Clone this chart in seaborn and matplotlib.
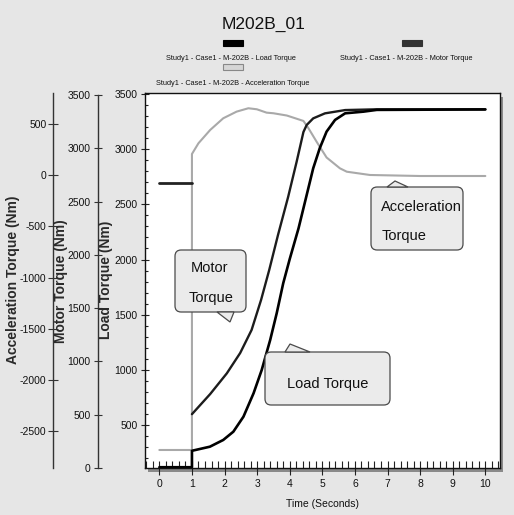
import matplotlib
matplotlib.use("Agg")
import matplotlib.pyplot as plt
import seaborn as sns
import pandas as pd
from matplotlib.patches import FancyBboxPatch, Polygon, Rectangle
from matplotlib.ticker import MultipleLocator

# ---------------- data ----------------
time_load = [0.0, 1.0, 1.0, 1.55, 1.96, 2.27, 2.58, 2.89, 3.14, 3.40, 3.60, 3.80,
             4.00, 4.27, 4.52, 4.72, 4.92, 5.13, 5.39, 5.70, 6.26, 6.67, 10.0]
load_torque = [118, 118, 267, 304, 365, 440, 576, 788, 999, 1271, 1513, 1785,
               2005, 2283, 2585, 2827, 3008, 3159, 3265, 3325, 3340, 3356, 3360]

time_motor_pre = [0.0, 1.0]
motor_torque_pre = [2674, 2674]
time_motor = [1.0, 1.56, 2.07, 2.48, 2.83, 3.12, 3.37, 3.64, 3.95, 4.21, 4.42,
              4.52, 4.72, 5.08, 5.70, 6.67, 10.0]
motor_torque = [505, 694, 888, 1079, 1295, 1576, 1857, 2186, 2542, 2871, 3152,
                3218, 3280, 3327, 3358, 3365, 3365]

time_acc = [0.0, 1.0, 1.0, 1.20, 1.56, 1.96, 2.37, 2.73, 2.99, 3.29, 3.50, 3.91,
            4.42, 4.57, 4.83, 5.13, 5.54, 5.75, 6.46, 8.0, 10.0]
acc_torque = [-2685, -2685, 207, 312, 442, 556, 621, 654, 644, 611, 605, 583,
              530, 461, 324, 173, 67, 34, 2, -8, -8]

x_ticks = list(range(0, 11))
load_ticks = [500, 1000, 1500, 2000, 2500, 3000, 3500]
motor_ticks = [0, 500, 1000, 1500, 2000, 2500, 3000, 3500]
acc_ticks = [-2500, -2000, -1500, -1000, -500, 0, 500]

legend_labels = ["Study1 - Case1 - M-202B - Load Torque",
                 "Study1 - Case1 - M-202B - Motor Torque",
                 "Study1 - Case1 - M-202B - Acceleration Torque"]

# ---------------- style ----------------
sns.set_theme(style="white")
FONT = ["Liberation Sans", "DejaVu Sans"]
plt.rcParams["font.family"] = FONT
plt.rcParams["axes.unicode_minus"] = False

W, H = 514, 515
BG = "#e6e6e6"
fig = plt.figure(figsize=(W / 100, H / 100), dpi=100, facecolor=BG)


def fx(px):
    return px / W


def fy(py):
    return 1 - py / H


L, R, T, B = 145, 500, 93, 468
ax = fig.add_axes([fx(L), fy(B), (R - L) / W, (B - T) / H])

# drop shadow of plot frame
fig.patches.append(Rectangle((fx(L + 3), fy(B + 4)), (R - L) / W, (B - T) / H,
                             transform=fig.transFigure, facecolor="#8a8a8a",
                             edgecolor="none", zorder=-1))

ax_m = ax.twinx()
ax_a = ax.twinx()

df_load = pd.DataFrame({"time": time_load, "torque": load_torque})
df_mpre = pd.DataFrame({"time": time_motor_pre, "torque": motor_torque_pre})
df_motor = pd.DataFrame({"time": time_motor, "torque": motor_torque})
df_acc = pd.DataFrame({"time": time_acc, "torque": acc_torque})

sns.lineplot(data=df_acc, x="time", y="torque", ax=ax_a, estimator=None,
             sort=False, color="#a9a9a9", lw=1.5)
sns.lineplot(data=df_mpre, x="time", y="torque", ax=ax_m, estimator=None,
             sort=False, color="#222222", lw=2.0)
sns.lineplot(data=df_motor, x="time", y="torque", ax=ax_m, estimator=None,
             sort=False, color="#1c1c1c", lw=1.7)
sns.lineplot(data=df_load, x="time", y="torque", ax=ax, estimator=None,
             sort=False, color="#000000", lw=1.9)

ax.set_zorder(3)
ax.patch.set_visible(False)
ax_m.set_zorder(2)
ax_m.patch.set_visible(False)
ax_a.set_zorder(1)
ax_a.patch.set_visible(True)
ax_a.patch.set_facecolor("white")

ax.set_xlim(-0.44, 10.45)
ax.set_ylim(111, 3509)
ax_m.set_ylim(0, 3518)
ax_a.set_ylim(-2861, 803)

for a in (ax, ax_m, ax_a):
    a.set_xlabel("")
    a.set_ylabel("")

TICK_FS = 7.5

# main axis (load torque)
for s in ("top", "left", "right", "bottom"):
    ax.spines[s].set_color("#111111")
    ax.spines[s].set_linewidth(1.0)
ax.set_xticks(x_ticks)
ax.xaxis.set_minor_locator(MultipleLocator(0.2))
ax.set_yticks(load_ticks)
ax.yaxis.set_minor_locator(MultipleLocator(100))
ax.tick_params(axis="x", which="major", direction="inout", length=10, width=0.8,
               color="#222222", pad=3.2, labelsize=TICK_FS, labelcolor="#111111",
               bottom=True)
ax.tick_params(axis="x", which="minor", direction="in", length=5, width=0.8,
               color="#222222", bottom=True)
ax.tick_params(axis="y", which="major", direction="inout", length=6, width=0.8,
               color="#222222", pad=2.5, labelsize=TICK_FS, labelcolor="#111111",
               left=True, right=False)
ax.tick_params(axis="y", which="minor", direction="in", length=2.5, width=0.8,
               color="#222222", left=True, right=False)

# twin axes (motor / acceleration) on the left, offset outward
for tw, off_px, ticks, ln, pd_ in ((ax_m, 47, motor_ticks, 6, 2.4),
                                   (ax_a, 92, acc_ticks, 6.5, 1.5)):
    for s in ("top", "right", "bottom"):
        tw.spines[s].set_visible(False)
    tw.spines["left"].set_visible(True)
    tw.spines["left"].set_position(("outward", off_px * 72 / 100))
    tw.spines["left"].set_color("#333333")
    tw.spines["left"].set_linewidth(1.0)
    tw.yaxis.set_ticks_position("left")
    tw.yaxis.set_label_position("left")
    tw.set_yticks(ticks)
    tw.tick_params(axis="y", which="major", direction="inout", length=ln,
                   width=0.8, color="#333333", pad=pd_, labelsize=TICK_FS,
                   labelcolor="#111111", left=True, right=False,
                   labelleft=True, labelright=False)
    tw.tick_params(axis="x", bottom=False, labelbottom=False)
ax_m.spines["left"].set_bounds(0, 3500)

# axis titles
ylab = dict(rotation=90, ha="center", va="center", fontsize=10,
            fontweight="bold", color="#2a2a2a")
fig.text(fx(13), fy(280), "Acceleration Torque (Nm)", **ylab)
fig.text(fx(60.5), fy(281), "Motor Torque (Nm)", **ylab)
fig.text(fx(106), fy(280), "Load Torque (Nm)", **ylab)
fig.text(fx(322), fy(507), "Time (Seconds)", ha="center", va="baseline",
         fontsize=7.5, color="#111111")

# title
fig.text(fx(264), fy(29), "M202B_01", ha="center", va="baseline",
         fontsize=12.5, color="#111111")

# legend (swatch above each label)
swatches = [((223, 40), "#000000", "#000000"),
            ((402, 40), "#333333", "#333333"),
            ((223, 64), "#d6d6d6", "#888888")]
for (sx, sy), fc, ec in swatches:
    fig.patches.append(Rectangle((fx(sx), fy(sy + 6)), 20 / W, 6 / H,
                                 transform=fig.transFigure, facecolor=fc,
                                 edgecolor=ec, lw=0.8, zorder=5))
leg = dict(ha="center", va="baseline", fontsize=5.3, color="#111111")
fig.text(fx(231), fy(60), legend_labels[0], **leg)
fig.text(fx(406), fy(60), legend_labels[1], **leg)
fig.text(fx(233), fy(85), legend_labels[2], **leg)


# callouts
def callout(x0, y0, x1, y1, tri):
    box = FancyBboxPatch((fx(x0), fy(y1)), (x1 - x0) / W, (y1 - y0) / H,
                         boxstyle="round,pad=0,rounding_size=0.012",
                         transform=fig.transFigure, facecolor="#ebebeb",
                         edgecolor="#4a4a4a", lw=0.9, zorder=6)
    fig.patches.append(box)
    poly = Polygon([(fx(px), fy(py)) for px, py in tri], closed=True,
                   transform=fig.transFigure, facecolor="#ebebeb",
                   edgecolor="#4a4a4a", lw=0.9, zorder=6)
    fig.patches.append(poly)


callout(175, 250, 246, 312, [(217, 312), (234, 312), (230, 322)])
callout(265, 352, 390, 405, [(285, 352), (290, 344), (310, 352)])
callout(371, 187, 463, 250, [(387, 187), (395, 181), (408, 187)])

ctext = dict(ha="left", va="baseline", fontsize=10.5, color="#111111", zorder=7)
fig.text(fx(191), fy(272), "Motor", **ctext)
fig.text(fx(189), fy(302), "Torque", **ctext)
fig.text(fx(287), fy(388), "Load Torque", **ctext)
fig.text(fx(381), fy(211), "Acceleration", **ctext)
fig.text(fx(382), fy(240), "Torque", **ctext)

fig.savefig("out.png", dpi=100, facecolor=BG)
